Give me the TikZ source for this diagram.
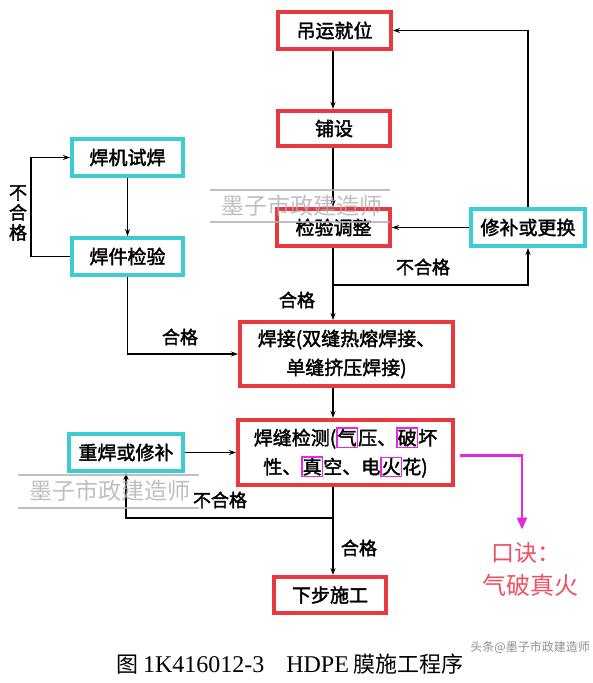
\documentclass[tikz,border=0pt]{standalone}
\usepackage{fontspec}
\setmainfont{Noto Sans CJK SC}
\newfontfamily\cjkb{Noto Sans CJK SC}[FakeBold=2]
\newfontfamily\cjkr{Noto Sans CJK SC}
\newfontfamily\serifl{Liberation Serif}
\usetikzlibrary{arrows.meta}
\definecolor{boxred}{RGB}{232,56,64}
\definecolor{boxcyan}{RGB}{60,205,210}
\definecolor{mag}{RGB}{228,40,228}
\definecolor{pinkred}{RGB}{240,80,100}
\definecolor{wm}{RGB}{175,175,175}
\newcommand\hlc[1]{{\setlength\fboxsep{0.2pt}\setlength\fboxrule{1.3pt}\fcolorbox{mag}{white}{#1}}}
\tikzset{
  flowbox/.style={line width=4pt, fill=white, inner sep=0pt, align=center,
    font=\cjkb\fontsize{19}{29}\selectfont},
  redbox/.style={flowbox, draw=boxred},
  cyanbox/.style={flowbox, draw=boxcyan},
  conn/.style={line width=1.3pt, -{Stealth[length=7pt,width=5pt]}},
  lbl/.style={font=\cjkb\fontsize{18}{20}\selectfont, inner sep=0pt, align=center},
  wmtext/.style={text=wm, font=\cjkr\fontsize{23}{24}\selectfont, inner sep=0pt, opacity=0.8},
  wmline/.style={draw=wm, line width=2pt, opacity=0.8},
}
\begin{document}
\begin{tikzpicture}[x=1pt,y=-1pt]
\useasboundingbox (0,0) rectangle (593,683);
\fill[white] (0,0) rectangle (593,683);

\coordinate (m) at (333,0);
\coordinate (lx) at (31,0);

\node[redbox, minimum width=113pt, minimum height=37pt] (A) at (334.5,30.5) {吊运就位};
\node[redbox, minimum width=112pt, minimum height=35pt] (B) at (334,128.5) {铺设};
\node[redbox, minimum width=113pt, minimum height=37pt] (C) at (333.5,227.5) {检验调整};
\node[cyanbox, minimum width=114pt, minimum height=37pt] (D) at (528,227.5) {修补或更换};
\node[cyanbox, minimum width=111pt, minimum height=37pt] (E) at (127.5,157.5) {焊机试焊};
\node[cyanbox, minimum width=111pt, minimum height=37pt] (F) at (127.5,256.5) {焊件检验};
\node[redbox, minimum width=213pt, minimum height=64pt] (G) at (346.5,354) {焊接(双缝热熔焊接、\\单缝挤压焊接)};
\node[redbox, minimum width=215pt, minimum height=65pt] (H) at (345.5,452.5) {焊缝检测(\hlc{气}压、\hlc{破}坏\\性、\hlc{真}空、电\hlc{火}花)};
\node[cyanbox, minimum width=114pt, minimum height=37pt] (I) at (126,452.5) {重焊或修补};
\node[redbox, minimum width=112pt, minimum height=36pt] (J) at (330,595) {下步施工};

\coordinate (br1) at (333,285);
\coordinate (br2) at (333,518);

\draw[conn] (A.south -| m) -- (B.north -| m);
\draw[conn] (B.south -| m) -- (C.north -| m);
\draw[conn] (C.south -| m) -- (G.north -| m);
\draw[conn] (br1) -| (D.south);
\draw[conn] (D.west) -- (C.east);
\draw[conn] (D.north) |- (A.east);
\draw[conn] (E.south) -- (F.north);
\draw[conn] (F.west) -- (F.west -| lx) |- (E.west);
\draw[conn] (F.south) |- (G.west);
\draw[conn] (G.south -| m) -- (H.north -| m);
\draw[conn] (H.south -| m) -- (J.north -| m);
\draw[conn] (br2) -| (I.south);
\draw[conn] (I.east) -- (H.west);

\draw[draw=mag, line width=2.5pt, -{Triangle[length=12pt,width=10pt]}] (H.east) ++(5,3) -- ++(62,0) -- ++(0,74);

\node[lbl] (l1) at (423,267) {不合格};
\node[lbl] (l2) at (297,300) {合格};
\node[lbl, font=\cjkb\fontsize{18}{20}\selectfont] (l3) at (18,213) {不\\合\\格};
\node[lbl] (l4) at (180,337) {合格};
\node[lbl] (l5) at (220,500) {不合格};
\node[lbl] (l6) at (359,548) {合格};

\node[text=pinkred, font=\cjkr\fontsize{23}{26}\selectfont, inner sep=0pt] (k1) at (526,553) {口诀：};
\node[text=pinkred, font=\cjkr\fontsize{24}{26}\selectfont, inner sep=0pt] (k2) at (530,585) {气破真火};

\node[inner sep=0pt, font=\cjkr\fontsize{22}{24}\selectfont] (cap) at (290,664)
  {图 {\serifl\fontsize{24}{24}\selectfont 1K416012-3}\quad{\serifl\fontsize{24}{24}\selectfont HDPE} 膜施工程序};

% watermarks
\draw[wmline] (210,190) -- (390,190);
\draw[wmline] (210,222) -- (390,222);
\node[wmtext] (w1) at (302,206) {墨子市政建造师};
\draw[wmline] (18,475) -- (199,475);
\draw[wmline] (18,508) -- (199,508);
\node[wmtext] (w2) at (110,491) {墨子市政建造师};
\node[text=black!55, font=\cjkr\fontsize{12}{14}\selectfont, inner sep=0pt, opacity=0.8, anchor=east] (w3) at (590,647) {头条@墨子市政建造师};
\end{tikzpicture}
\end{document}
